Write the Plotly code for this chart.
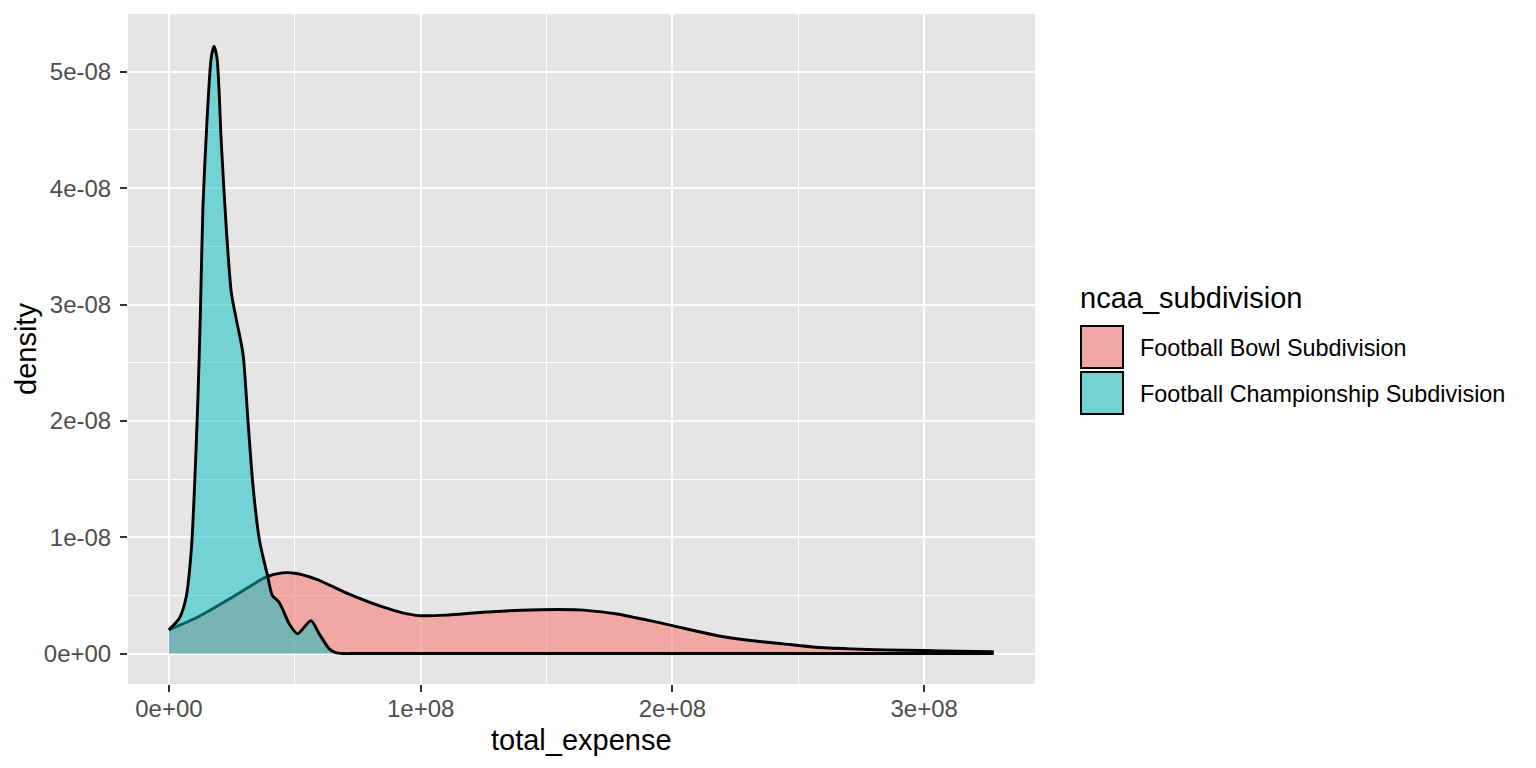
import plotly.graph_objects as go

# density curves (x in dollars, y in density)
fbs_x = [0.0, 0.119e8, 0.252e8, 0.385e8, 0.451e8, 0.50e8, 0.584e8, 0.716e8, 0.849e8,
         0.928e8, 0.995e8, 1.10e8, 1.247e8, 1.40e8, 1.55e8, 1.63e8, 1.71e8, 1.78e8,
         1.91e8, 2.00e8, 2.175e8, 2.31e8, 2.44e8, 2.57e8, 2.71e8, 2.84e8, 3.00e8,
         3.14e8, 3.276e8]
fbs_y = [0.203e-8, 0.318e-8, 0.484e-8, 0.656e-8, 0.693e-8, 0.69e-8, 0.64e-8, 0.51e-8, 0.40e-8,
         0.35e-8, 0.326e-8, 0.33e-8, 0.355e-8, 0.372e-8, 0.378e-8, 0.375e-8, 0.36e-8, 0.34e-8,
         0.283e-8, 0.24e-8, 0.155e-8, 0.112e-8, 0.083e-8, 0.054e-8, 0.04e-8, 0.031e-8, 0.026e-8,
         0.02e-8, 0.015e-8]

fcs_x = [0.0, 0.042e8, 0.069e8, 0.089e8, 0.102e8, 0.115e8, 0.125e8, 0.135e8, 0.151e8,
         0.168e8, 0.179e8, 0.191e8, 0.208e8, 0.228e8, 0.248e8, 0.267e8, 0.294e8, 0.314e8,
         0.334e8, 0.360e8, 0.391e8, 0.411e8, 0.438e8, 0.478e8, 0.511e8, 0.564e8, 0.597e8,
         0.637e8, 0.662e8, 0.69e8, 0.75e8, 3.276e8]
fcs_y = [0.203e-8, 0.305e-8, 0.49e-8, 0.89e-8, 1.44e-8, 2.18e-8, 2.92e-8, 3.83e-8, 4.57e-8,
         5.12e-8, 5.22e-8, 5.12e-8, 4.39e-8, 3.65e-8, 3.10e-8, 2.88e-8, 2.58e-8, 2.0e-8,
         1.44e-8, 0.97e-8, 0.676e-8, 0.498e-8, 0.44e-8, 0.255e-8, 0.169e-8, 0.283e-8, 0.169e-8,
         0.04e-8, 0.008e-8, 0.0, 0.0, 0.0]

x_ticks = [0, 1e8, 2e8, 3e8]
x_labels = ["0e+00", "1e+08", "2e+08", "3e+08"]
y_ticks = [0, 1e-8, 2e-8, 3e-8, 4e-8, 5e-8]
y_labels = ["0e+00", "1e-08", "2e-08", "3e-08", "4e-08", "5e-08"]

groups = ["Football Bowl Subdivision", "Football Championship Subdivision"]
fills = ["rgba(248,118,109,0.55)", "rgba(0,191,196,0.5)"]
PANEL = "#E5E5E5"

# the page body has an 8px margin, so the figure is sized to sit inside the window
OFF = 8
W, H = 1536 - 2 * OFF, 768 - 2 * OFF
L, T = 128 - OFF, 14 - OFF
R = W - (1035 - OFF)
B = H - (684 - OFF)
FONT = "Liberation Sans, Arial, Helvetica, sans-serif"


def px(x):
    # window pixel -> paper x
    return (x - OFF - L) / (W - L - R)


def py(y):
    # window pixel -> paper y
    return (H - B - (y - OFF)) / (H - T - B)


fig = go.Figure()
for xs, ys, fc in [(fbs_x, fbs_y, fills[0]), (fcs_x, fcs_y, fills[1])]:
    fig.add_trace(go.Scatter(
        x=xs, y=ys, mode="lines", fill="tozeroy", fillcolor=fc,
        line=dict(color="black", width=2.9, shape="spline", smoothing=0.7),
        showlegend=False, hoverinfo="skip"
    ))

axis_common = dict(
    showline=False, zeroline=False,
    showgrid=True, gridcolor="white", gridwidth=2.2,
    ticks="outside", ticklen=7, tickwidth=2, tickcolor="#333333",
    tickfont=dict(family=FONT, size=24, color="#4D4D4D"),
)

fig.update_xaxes(
    range=[-0.1625e8, 3.44e8], tickvals=x_ticks, ticktext=x_labels,
    minor=dict(dtick=0.5e8, tick0=0, showgrid=True, gridcolor="white", gridwidth=1.1, ticklen=0),
    ticklabelstandoff=-4, **axis_common
)
fig.update_yaxes(
    range=[-0.262e-8, 5.497e-8], tickvals=y_ticks, ticktext=y_labels,
    minor=dict(dtick=0.5e-8, tick0=0, showgrid=True, gridcolor="white", gridwidth=1.1, ticklen=0),
    ticklabelstandoff=4, **axis_common
)

# axis titles
fig.add_annotation(x=0.5, y=py(740), xref="paper", yref="paper", text="total_expense",
                   showarrow=False, xanchor="center", yanchor="middle",
                   font=dict(family=FONT, size=29, color="black"))
fig.add_annotation(x=px(26), y=0.5, xref="paper", yref="paper", text="density",
                   showarrow=False, textangle=-90, xanchor="center", yanchor="middle",
                   font=dict(family=FONT, size=29, color="black"))

# legend, drawn like the ggplot guide
fig.add_annotation(x=px(1078), y=py(298), xref="paper", yref="paper", text="ncaa_subdivision",
                   showarrow=False, xanchor="left", yanchor="middle",
                   font=dict(family=FONT, size=29, color="black"))
key_tops = [326, 372]
for top, name, fc in zip(key_tops, groups, fills):
    fig.add_shape(type="rect", xref="paper", yref="paper",
                  x0=px(1081), x1=px(1123), y0=py(top + 42), y1=py(top),
                  fillcolor=PANEL, line=dict(width=0))
    fig.add_shape(type="rect", xref="paper", yref="paper",
                  x0=px(1081), x1=px(1123), y0=py(top + 42), y1=py(top),
                  fillcolor=fc, line=dict(color="black", width=2))
    fig.add_annotation(x=px(1138), y=py(top + 22), xref="paper", yref="paper", text=name,
                       showarrow=False, xanchor="left", yanchor="middle",
                       font=dict(family=FONT, size=23.4, color="black"))

fig.update_layout(
    width=W, height=H,
    margin=dict(l=L, r=R, t=T, b=B),
    plot_bgcolor=PANEL, paper_bgcolor="white",
    showlegend=False,
)

fig.write_html("out.html")
